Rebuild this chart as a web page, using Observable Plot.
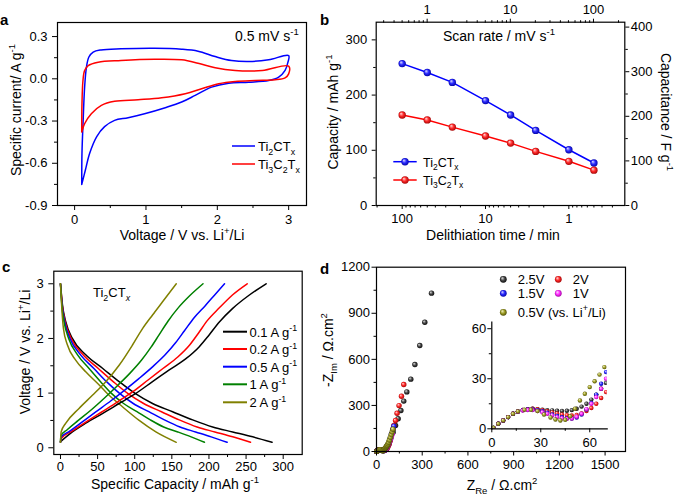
<!DOCTYPE html>
<html><head><meta charset="utf-8">
<script src="https://cdn.jsdelivr.net/npm/d3@7"></script>
<script src="https://cdn.jsdelivr.net/npm/@observablehq/plot@0.6"></script>
<style>
body{margin:0;background:#fff;}
#fig{position:relative;width:675px;height:496px;overflow:hidden;background:#fff;}
svg.pp text{font-size:13px !important;font-family:"Liberation Sans", Arial, Helvetica, sans-serif !important;}
</style></head><body>
<div id="defs"></div>
<div id="fig"></div>
<script>
// ---------- Panel a: cyclic voltammetry (V, A/g) ----------
const aTi2V = [0.10,0.103,0.12,0.14,0.165,0.20,0.26,0.37,0.65,1.12,1.50,1.73,1.97,2.20,2.44,2.72,3.00, 2.99,2.95,2.86,2.72,2.44,2.16,1.92,1.69,1.50,1.27,0.98,0.75,0.56,0.42,0.31,0.21,0.15,0.10];
const aTi2I = [-0.75,-0.53,-0.29,-0.06,0.08,0.155,0.19,0.205,0.213,0.217,0.21,0.196,0.158,0.13,0.123,0.135,0.165, 0.118,0.06,0.012,-0.012,-0.024,-0.031,-0.059,-0.118,-0.165,-0.205,-0.248,-0.276,-0.295,-0.34,-0.41,-0.53,-0.65,-0.75];
const aTi3V = [0.10,0.103,0.117,0.14,0.19,0.33,0.65,1.12,1.50,1.73,1.97,2.25,2.63,3.00, 3.00,2.95,2.81,2.53,2.25,2.02,1.78,1.55,1.22,0.89,0.56,0.375,0.234,0.14,0.10];
const aTi3I = [-0.378,-0.177,-0.012,0.059,0.094,0.118,0.13,0.139,0.135,0.111,0.078,0.059,0.059,0.09, 0.035,0.007,-0.007,-0.012,-0.019,-0.035,-0.071,-0.106,-0.135,-0.149,-0.16,-0.189,-0.248,-0.319,-0.378];

// ---------- Panel b: rate capability ----------
const bTime = [100, 50, 25, 10, 5, 2.5, 1, 0.5];          // delithiation time, min
const bCapTi2 = [257, 241, 223, 190, 164, 136, 101, 77];  // mAh/g
const bCapTi3 = [164, 155, 142, 126, 113, 98, 80, 64];    // mAh/g
const scanRateTicks = [1, 10, 100];                        // mV/s (top axis)

// ---------- Panel c: galvanostatic profiles ----------
const cLabels = ["0.1 A g^{-1}", "0.2 A g^{-1}", "0.5 A g^{-1}", "1 A g^{-1}", "2 A g^{-1}"];
const cColors = ["#000000", "#ff0000", "#0000ff", "#008000", "#808000"];
const cDis01Cap = [0, 2.7, 7.2, 16, 34, 57, 79, 101, 124, 151, 178, 205, 232, 259, 285];
const cDis01V   = [3.0, 2.61, 2.3, 2.0, 1.70, 1.45, 1.21, 0.99, 0.81, 0.66, 0.51, 0.38, 0.29, 0.20, 0.10];
const cChg01Cap = [0, 16, 34, 57, 79, 101, 124, 146, 169, 187, 200, 214, 232, 254, 277];
const cChg01V   = [0.11, 0.29, 0.45, 0.63, 0.81, 0.99, 1.21, 1.42, 1.63, 1.85, 2.06, 2.30, 2.55, 2.79, 3.0];
const cDis02Cap = [0, 2.5, 6.5, 14.5, 30.5, 51, 71, 91, 112, 136, 160, 184, 208, 232, 256];
const cDis02V   = [3.0, 2.6, 2.3, 2.0, 1.70, 1.45, 1.21, 0.99, 0.81, 0.66, 0.51, 0.38, 0.29, 0.20, 0.10];
const cChg02Cap = [0, 1, 15, 33, 55, 77, 98, 118, 138, 158, 174, 186, 198, 214, 232, 251.5];
const cChg02V   = [0.10, 0.17, 0.30, 0.46, 0.65, 0.84, 1.03, 1.24, 1.45, 1.66, 1.88, 2.10, 2.33, 2.56, 2.80, 3.0];
const cDis05Cap = [0, 2.2, 5.7, 12.8, 27, 45, 62, 80, 98, 119, 140, 161, 182, 203, 224.5];
const cDis05V   = [3.0, 2.6, 2.3, 2.0, 1.70, 1.45, 1.21, 0.99, 0.81, 0.66, 0.51, 0.38, 0.29, 0.20, 0.10];
const cChg05Cap = [0, 1, 12, 28, 48, 68, 87, 106, 124, 141, 155, 167, 180, 195, 208, 221];
const cChg05V   = [0.10, 0.20, 0.30, 0.46, 0.66, 0.86, 1.06, 1.27, 1.48, 1.70, 1.92, 2.14, 2.38, 2.60, 2.80, 3.0];
const cDis1Cap  = [0, 1.9, 4.9, 11, 23, 38.5, 54, 69, 85, 103, 121, 139, 158, 176, 194];
const cDis1V    = [3.0, 2.6, 2.3, 2.0, 1.70, 1.45, 1.21, 0.99, 0.81, 0.66, 0.51, 0.38, 0.29, 0.20, 0.10];
const cChg1Cap  = [0, 0.5, 9, 24, 42, 60, 77, 94, 109, 122, 133, 145, 158, 174, 192];
const cChg1V    = [0.10, 0.22, 0.33, 0.50, 0.70, 0.92, 1.14, 1.37, 1.60, 1.84, 2.07, 2.32, 2.55, 2.78, 3.0];
const cDis2Cap  = [0, 1.8, 4, 9.4, 20.7, 34, 49.8, 65.5, 83.5, 106, 128.5, 156];
const cDis2V    = [3.0, 2.55, 2.18, 1.88, 1.60, 1.39, 1.18, 0.96, 0.75, 0.50, 0.29, 0.10];
const cChg2Cap  = [0, 0.9, 7.2, 25, 43, 61, 79, 97, 110.5, 124, 137.5, 156];
const cChg2V    = [0.10, 0.29, 0.45, 0.72, 0.96, 1.21, 1.51, 1.88, 2.18, 2.43, 2.67, 3.0];

// ---------- Panel d: Nyquist plots (ohm.cm2) ----------
const dLabels = ["2.5V", "2V", "1.5V", "1V", "0.5V (vs. Li^{+}/Li)"];
const d25Re = [1,4,7,10,13,16,19,22,25,28,31,34,37,40,43,46,49,52,55,58,61,64,67,70, 74,84,94,109,125,142,160,179,199,225,252,284,317,361];
const d25Im = [0.5,3,5,7,9,10.4,11.3,11.8,12,11.8,11.5,11.2,11,10.8,10.7,10.8,11.2,12,13.3,15,17.5,20.5,24,27.5, 38,62,89,126,169,213,267,328,388,471,566,690,842,1031];
const d2Re  = [1,4,7,10,13,16,19,22,25,28,31,34,37,40,43,46,49,52,55,58,61,64,67,70, 76,83,90,100,107,114,125,135,148,164,179];
const d2Im  = [0.5,3,5,7,9,10.4,11.3,11.8,12,11.7,11.2,10.5,9.8,9.2,8.6,8.2,8,8.3,9.2,10.6,12.5,15,18.5,22, 32,48,70,115,143,169,202,249,299,360,436];
const d15Re = [1,4,7,10,13,16,19,22,25,28,31,34,37,40,43,46,49,52,55,58,61,64,67,70, 74,80,88,98,106,114];
const d15Im = [0.5,3,5,7,9,10.3,11.2,11.6,11.6,11.2,10.5,9.6,8.6,7.7,6.9,6.3,6.2,6.8,8.5,11.5,15.5,20.5,27,34, 42,56,80,112,140,165];
const d1Re  = [1,4,7,10,13,16,19,22,25,28,31,34,37,40,43,46,49,52,55,58,61,64,67,70, 74,80,86,92,98,104];
const d1Im  = [0.5,3,5,7,9,10.2,11,11.3,11.2,10.7,9.9,9,8,7,6.3,6,6.2,7.2,9,11.8,15,19,24,30, 38,50,64,80,97,115];
const d05Re = [1,4,7,10,13,16,20,24,28,32,36,39,42,45,48,51,54,57,60,63,66,69,72, 76,80,85,91,97,103,108];
const d05Im = [0.6,3,5,7,9,10.4,11.4,11.4,10.6,8.6,6.8,5.6,5,5.4,7.5,12,17,21,25,28.5,32.5,37,42, 50,60,75,92,110,128,145];

// ---------- helpers ----------
const FONT = '"Liberation Sans", Arial, Helvetica, sans-serif';
const baseStyle = {background: "transparent", fontFamily: FONT, fontSize: "13px", color: "black", overflow: "visible"};
const fig = document.getElementById("fig");
const grads = [["gK","#e6e6e6","#4a4a4a","#000000"],["gR","#ffe0e0","#ff2a2a","#9a0000"],["gB","#e0e0ff","#2a2aff","#00009a"],["gM","#ffe0ff","#ff30ff","#9a009a"],["gO","#f4f4cc","#a0a028","#454500"]];
document.getElementById("defs").innerHTML = `<svg width="0" height="0" style="position:absolute"><defs>${grads.map(([id,a,b,c]) => `<radialGradient id="${id}" cx="0.5" cy="0.5" r="0.55" fx="0.33" fy="0.3"><stop offset="0" stop-color="${a}"/><stop offset="0.5" stop-color="${b}"/><stop offset="1" stop-color="${c}"/></radialGradient>`).join("")}</defs></svg>`;

function place(el, left, top) {
  el.classList.add("pp");
  el.style.position = "absolute"; el.style.left = left + "px"; el.style.top = top + "px";
  fig.appendChild(el);
}
function zip(xs, ys, kx, ky) { return xs.map((x, i) => ({[kx]: x, [ky]: ys[i]})); }
function ax(dim, anchor, major, minor, fmt, pad = 3, size = 5, minorSize = 3) {
  const A = dim === "x" ? Plot.axisX : Plot.axisY;
  const m = [A(major, {anchor, tickSize: size, tickPadding: pad, tickFormat: fmt, label: null, fontSize: 13})];
  if (minor && minor.length) m.push(A(minor, {anchor, tickSize: minorSize, fill: "none", label: null}));
  return m;
}
const frame = () => Plot.frame({stroke: "black", strokeWidth: 1.2});

// ---------- Panel a ----------
const pa = Plot.plot({
  width: 337, height: 248, marginLeft: 57, marginRight: 31, marginTop: 22, marginBottom: 43,
  x: {domain: [-0.24, 3.25], axis: null}, y: {domain: [-0.9, 0.4], axis: null}, style: baseStyle,
  marks: [
    Plot.line(zip(aTi2V, aTi2I, "v", "i"), {x: "v", y: "i", stroke: "#0000ff", strokeWidth: 1.5, curve: "catmull-rom"}),
    Plot.line(zip(aTi3V, aTi3I, "v", "i"), {x: "v", y: "i", stroke: "#ff0000", strokeWidth: 1.5, curve: "catmull-rom"}),
    frame(),
    ...ax("x", "bottom", [0, 1, 2, 3], [0.5, 1.5, 2.5], d => String(d), 4.5),
    ...ax("y", "left", [-0.9, -0.6, -0.3, 0, 0.3], [-0.75, -0.45, -0.15, 0.15], d => d.toFixed(1), 5)
  ]
});
place(pa, 0, 0);

// ---------- Panel b ----------
const decMinor = (lo, hi) => [0.01, 0.1, 1, 10, 100].flatMap(p => [2,3,4,5,6,7,8,9].map(k => +(k * p).toPrecision(3))).filter(v => v > lo && v < hi);
const pb = Plot.plot({
  width: 338, height: 248, marginLeft: 38.7, marginRight: 50.7, marginTop: 21.7, marginBottom: 43,
  x: {type: "log", domain: [0.213, 205], reverse: true, axis: null}, y: {domain: [0, 332], axis: null}, style: baseStyle,
  marks: [
    Plot.line(zip(bTime, bCapTi2, "t", "c"), {x: "t", y: "c", stroke: "#0000ff", strokeWidth: 1.5}),
    Plot.line(zip(bTime, bCapTi3, "t", "c"), {x: "t", y: "c", stroke: "#ff0000", strokeWidth: 1.5}),
    Plot.dot(zip(bTime, bCapTi2, "t", "c"), {x: "t", y: "c", r: 3.7, fill: "url(#gB)"}),
    Plot.dot(zip(bTime, bCapTi3, "t", "c"), {x: "t", y: "c", r: 3.7, fill: "url(#gR)"}),
    frame(),
    ...ax("x", "bottom", [100, 10, 1], decMinor(0.213, 205), d => String(d), 4.5, 4, 2.5),
    ...ax("y", "left", [0, 100, 200, 300], [50, 150, 250], d => String(d), 5, 4, 2.5)
  ]
});
place(pb, 337, 0);
const pb2 = Plot.plot({
  width: 338, height: 248, marginLeft: 38.7, marginRight: 50.7, marginTop: 21.7, marginBottom: 43,
  x: {type: "log", domain: [0.244, 238], axis: null}, y: {domain: [0, 411], axis: null}, style: baseStyle,
  marks: [
    ...ax("x", "top", scanRateTicks, decMinor(0.244, 238), d => String(d), 4, 4, 2.5),
    ...ax("y", "right", [0, 100, 200, 300, 400], [50, 150, 250, 350], d => String(d), 2, 4, 2.5)
  ]
});
place(pb2, 337, 0);

// ---------- Panel c ----------
const cDis = [[cDis01Cap, cDis01V], [cDis02Cap, cDis02V], [cDis05Cap, cDis05V], [cDis1Cap, cDis1V], [cDis2Cap, cDis2V]];
const cChg = [[cChg01Cap, cChg01V], [cChg02Cap, cChg02V], [cChg05Cap, cChg05V], [cChg1Cap, cChg1V], [cChg2Cap, cChg2V]];
const cMarks = [];
cDis.forEach(([c, v], k) => cMarks.push(Plot.line(zip(c, v, "c", "v"), {x: "c", y: "v", stroke: cColors[k], strokeWidth: 1.5, curve: "monotone-x"})));
cChg.forEach(([c, v], k) => cMarks.push(Plot.line(zip(c, v, "c", "v"), {x: "c", y: "v", stroke: cColors[k], strokeWidth: 1.5, curve: "monotone-x"})));
const pc = Plot.plot({
  width: 337, height: 248, marginLeft: 53.3, marginRight: 35.3, marginTop: 22.7, marginBottom: 42,
  x: {domain: [-9, 325.6], axis: null}, y: {domain: [-0.123, 3.23], axis: null}, style: baseStyle,
  marks: [
    ...cMarks,
    frame(),
    ...ax("x", "bottom", [0, 50, 100, 150, 200, 250, 300], [25, 75, 125, 175, 225, 275], d => String(d), 2.5),
    ...ax("y", "left", [0, 1, 2, 3], [0.5, 1.5, 2.5], d => String(d), 5)
  ]
});
place(pc, 0, 248);

// ---------- Panel d ----------
const dSeries = [[d25Re, d25Im, "url(#gK)"], [d2Re, d2Im, "url(#gR)"], [d15Re, d15Im, "url(#gB)"], [d1Re, d1Im, "url(#gM)"], [d05Re, d05Im, "url(#gO)"]];
const pd = Plot.plot({
  width: 338, height: 248, marginLeft: 39, marginRight: 50, marginTop: 18.7, marginBottom: 45,
  x: {domain: [0, 1634], axis: null}, y: {domain: [0, 1200], axis: null}, style: baseStyle,
  marks: [
    ...dSeries.map(([re, im, f]) => Plot.dot(zip(re, im, "re", "im"), {x: "re", y: "im", r: 2.7, fill: f})),
    frame(),
    ...ax("x", "bottom", [0, 300, 600, 900, 1200, 1500], [150, 450, 750, 1050, 1350], d => String(d), 3.5, 4.5, 2.5),
    ...ax("y", "left", [0, 300, 600, 900, 1200], [150, 450, 750, 1050], d => String(d), 2, 4.5, 2.5)
  ]
});
place(pd, 337, 248);
const pdi = Plot.plot({
  width: 165, height: 135, marginLeft: 36.3, marginRight: 13.3, marginTop: 11.7, marginBottom: 16.7,
  x: {domain: [0, 70.7], axis: null}, y: {domain: [0, 63.9], axis: null}, style: baseStyle,
  marks: [
    ...dSeries.map(([re, im, f]) => Plot.dot(zip(re, im, "re", "im"), {x: "re", y: "im", r: 2.2, fill: f, clip: true})),
    Plot.frame({anchor: "left", stroke: "black", strokeWidth: 1.2}),
    Plot.frame({anchor: "bottom", stroke: "black", strokeWidth: 1.2}),
    ...ax("x", "bottom", [0, 30, 60], [15, 45], d => String(d), 5, 4, 2.5),
    ...ax("y", "left", [0, 30, 60], [15, 45], d => String(d), 1.5, 4, 2.5)
  ]
});
place(pdi, 455, 310);

// ---------- annotations (titles, legends) ----------
const ov = d3.select(fig).append("svg").attr("width", 675).attr("height", 496)
  .style("position", "absolute").style("left", "0px").style("top", "0px")
  .style("font-family", FONT).style("pointer-events", "none");
function rich(x, y, s, o = {}) {
  const fs = o.size || 14;
  const t = ov.append("text").attr("x", x).attr("y", y).attr("font-size", fs)
    .attr("text-anchor", o.anchor || "start").attr("font-weight", o.weight || "normal").attr("fill", "black");
  if (o.rotate) t.attr("transform", `rotate(${o.rotate},${x},${y})`);
  const re = /([_^])\{([^}]*)\}|([^_^]+)/g;
  let m, shift = 0;
  while ((m = re.exec(s))) {
    if (m[3] !== undefined) {
      const sp = t.append("tspan").text(m[3]);
      if (shift) { sp.attr("dy", -shift); shift = 0; }
    } else {
      let txt = m[2], ital = false;
      if (txt.startsWith("*")) { txt = txt.slice(1); ital = true; }
      const d = m[1] === "_" ? 0.28 * fs : -0.42 * fs;
      const sp = t.append("tspan").text(txt).attr("font-size", fs * 0.68).attr("dy", d - shift);
      if (ital) sp.attr("font-style", "italic");
      shift = d;
    }
  }
}
// panel letters
rich(0, 25, "a", {size: 15, weight: "bold"});
rich(320, 25, "b", {size: 15, weight: "bold"});
rich(2, 272, "c", {size: 15, weight: "bold"});
rich(320, 274, "d", {size: 15, weight: "bold"});
// a
rich(20.5, 110, "Specific current/ A g^{-1}", {rotate: -90, anchor: "middle"});
rich(182, 240, "Voltage / V vs. Li^{+}/Li", {anchor: "middle"});
rich(235, 41, "0.5 mV s^{-1}");
const aLeg = [["#0000ff", "Ti_{2}CT_{x}", 146], ["#ff0000", "Ti_{3}C_{2}T_{x}", 164]];
aLeg.forEach(([c, s, y]) => {
  ov.append("line").attr("x1", 232).attr("x2", 255).attr("y1", y).attr("y2", y).attr("stroke", c).attr("stroke-width", 1.5);
  rich(258, y + 5, s, {size: 13});
});
// b
rich(337.5, 112, "Capacity / mAh g^{-1}", {rotate: -90, anchor: "middle"});
rich(661, 112, "Capacitance / F g^{-1}", {rotate: 90, anchor: "middle"});
rich(493, 240, "Delithiation time / min", {anchor: "middle"});
rich(443, 41, "Scan rate / mV s^{-1}");
const bLeg = [["#0000ff", "url(#gB)", "Ti_{2}CT_{x}", 161.7], ["#ff0000", "url(#gR)", "Ti_{3}C_{2}T_{x}", 180]];
bLeg.forEach(([c, g, s, y]) => {
  ov.append("line").attr("x1", 393.3).attr("x2", 416.7).attr("y1", y).attr("y2", y).attr("stroke", c).attr("stroke-width", 1.5);
  ov.append("circle").attr("cx", 405).attr("cy", y).attr("r", 3.7).attr("fill", g);
  rich(423, y + 4.8, s, {size: 12.5});
});
// c
rich(29.5, 352, "Voltage / V vs. Li^{+}/Li", {rotate: -90, anchor: "middle"});
rich(175, 489, "Specific Capacity / mAh g^{-1}", {anchor: "middle"});
rich(93, 297, "Ti_{2}CT_{*x}", {size: 13});
const cLegY = [331.7, 349, 366.7, 384.3, 402.3];
cLabels.forEach((s, k) => {
  ov.append("line").attr("x1", 223).attr("x2", 247).attr("y1", cLegY[k]).attr("y2", cLegY[k]).attr("stroke", cColors[k]).attr("stroke-width", 2);
  rich(249.5, cLegY[k] + 5, s, {size: 13});
});
// d
rich(333, 350, "-Z_{Im} / \u03A9.cm^{2}", {rotate: -90, anchor: "middle"});
rich(502, 490, "Z_{Re} / \u03A9.cm^{2}", {anchor: "middle"});
const dLegPos = [[503.3, 279.3], [558.3, 279.3], [503.3, 293.3], [558.3, 293.3], [503.3, 312.3]];
dLabels.forEach((s, k) => {
  const [x, y] = dLegPos[k];
  ov.append("circle").attr("cx", x).attr("cy", y).attr("r", 3.4).attr("fill", dSeries[k][2]);
  rich(x + 14.4, y + 4.6, s, {size: 13});
});
</script>
</body></html>
